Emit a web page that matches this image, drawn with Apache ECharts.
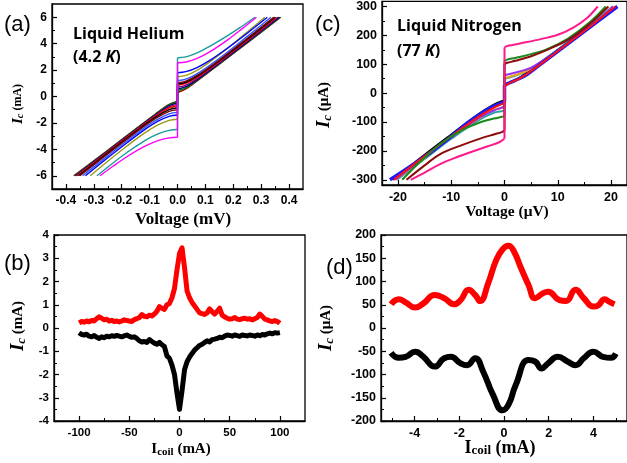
<!DOCTYPE html>
<html>
<head>
<meta charset="utf-8">
<script src="https://cdn.jsdelivr.net/npm/echarts@6/dist/echarts.min.js"></script>
<style>
html,body{margin:0;padding:0;background:#fff;}
#chart{width:627px;height:463px;}
</style>
</head>
<body>
<div id="chart"></div>
<script>
// ---------- (a) Liquid helium I-V curves: [voltage mV, current mA] ----------
const heTeal    = [[-0.289,-6],[-0.23,-5.01],[-0.18,-4.22],[-0.12,-3.37],[-0.07,-2.83],[-0.03,-2.56],[0,-2.5],[0,2.93],[0.03,3.0],[0.07,3.3],[0.12,3.85],[0.18,4.6],[0.23,5.3],[0.278,6]];
const heMagenta = [[-0.278,-6],[-0.23,-5.26],[-0.18,-4.54],[-0.12,-3.8],[-0.07,-3.34],[-0.03,-3.13],[0,-3.08],[0,2.55],[0.03,2.61],[0.07,2.88],[0.12,3.44],[0.18,4.29],[0.23,5.1],[0.283,6]];
const heBlue    = [[-0.33,-6],[-0.25,-4.64],[-0.18,-3.48],[-0.12,-2.54],[-0.07,-1.87],[-0.03,-1.5],[0,-1.4],[0,1.8],[0.03,1.88],[0.07,2.19],[0.12,2.79],[0.18,3.67],[0.25,4.79],[0.322,6]];
const heOlive   = [[-0.313,-6],[-0.25,-4.9],[-0.18,-3.73],[-0.12,-2.79],[-0.07,-2.15],[-0.03,-1.81],[0,-1.72],[0,1.5],[0.03,1.6],[0.07,1.98],[0.12,2.69],[0.18,3.66],[0.25,4.88],[0.313,6]];
const heRoyal   = [[-0.34,-6],[-0.25,-4.49],[-0.15,-2.86],[-0.08,-1.83],[-0.03,-1.31],[0,-1.2],[0,1.2],[0.03,1.31],[0.08,1.85],[0.15,2.89],[0.25,4.55],[0.335,6]];
const heWine    = [[-0.35,-6],[-0.25,-4.34],[-0.15,-2.73],[-0.08,-1.68],[-0.03,-1.12],[0,-1.0],[0,1.05],[0.03,1.17],[0.08,1.73],[0.15,2.77],[0.25,4.41],[0.345,6]];
const heBlack   = [[-0.355,-6],[-0.25,-4.27],[-0.15,-2.65],[-0.08,-1.58],[-0.03,-0.99],[0,-0.85],[0,0.95],[0.03,1.08],[0.08,1.65],[0.15,2.71],[0.25,4.34],[0.35,6]];
const heRed     = [[-0.36,-6],[-0.25,-4.2],[-0.15,-2.58],[-0.08,-1.5],[-0.03,-0.86],[0,-0.7],[0,0.85],[0.03,0.99],[0.08,1.58],[0.15,2.65],[0.25,4.27],[0.355,6]];
const hePurple  = [[-0.362,-6],[-0.25,-4.17],[-0.15,-2.55],[-0.08,-1.45],[-0.03,-0.78],[0,-0.6],[0,0.7],[0.03,0.86],[0.08,1.5],[0.15,2.58],[0.25,4.2],[0.36,6]];
const heNavy    = [[-0.365,-6],[-0.25,-4.12],[-0.15,-2.51],[-0.08,-1.41],[-0.03,-0.7],[0,-0.5],[0,0.55],[0.03,0.74],[0.08,1.42],[0.15,2.52],[0.25,4.13],[0.365,6]];
const heGreen   = [[-0.368,-6],[-0.25,-4.09],[-0.15,-2.47],[-0.08,-1.37],[-0.03,-0.64],[0,-0.42],[0,0.45],[0.03,0.66],[0.08,1.38],[0.15,2.48],[0.25,4.09],[0.368,6]];
const heMaroon  = [[-0.372,-6],[-0.25,-4.07],[-0.15,-2.46],[-0.08,-1.34],[-0.03,-0.6],[0,-0.35],[0,0.3],[0.03,0.57],[0.08,1.33],[0.15,2.45],[0.25,4.06],[0.37,6]];

// ---------- (c) Liquid nitrogen I-V curves: [voltage µV, current µA] ----------
const n2Black  = [[-21,-300],[-15,-213],[-10,-143],[-5,-74],[-2,-40],[-0.5,-28],[0,-25],[0,30],[1,37],[3,56],[6,96],[10,150],[15,218],[21,300]];
const n2Teal   = [[-20.2,-300],[-15,-228],[-10,-158],[-5,-95],[-2,-68],[0,-62],[0,50],[2,60],[5,85],[10,150],[15,222],[20.3,300]];
const n2Orange = [[-20.5,-300],[-15,-225],[-10,-153],[-5,-90],[-2,-58],[0,-50],[0,52],[1,57],[3,68],[5,84],[8,120],[12,172],[16,230],[20.4,300]];
const n2Purple = [[-20.5,-300],[-15,-222],[-10,-153],[-5,-88],[-2,-60],[-0.5,-50],[0,-45],[0,62],[1,66],[3,76],[5,88],[8,122],[12,174],[16,230],[20.4,300]];
const n2Blue   = [[-21.5,-300],[-15,-220],[-10,-150],[-7,-104],[-4,-66],[-2,-45],[-1,-37],[0,-30],[0,28],[1,36],[2,44],[4,62],[7,103],[10,145],[15,214],[21.2,300]];
const n2Red    = [[-20.8,-300],[-15,-218],[-10,-149],[-5,-83],[-2,-50],[-0.5,-38],[0,-35],[0,22],[0.5,30],[1.5,40],[3,52],[6,90],[10,146],[15,215],[20.8,300]];
const n2Green  = [[-19.2,-300],[-16,-240],[-12,-175],[-8,-128],[-5,-104],[-2,-88],[-0.5,-82],[0,-80],[0,112],[0.5,116],[2,122],[5,135],[8,152],[12,190],[16,245],[19,300]];
const n2Maroon = [[-18.4,-300],[-15,-250],[-12,-210],[-8,-180],[-5,-160],[-2,-143],[-0.5,-135],[0,-130],[0,100],[0.5,105],[2,112],[5,128],[8,150],[12,185],[16,240],[19.5,300]];
const n2Pink   = [[-17.6,-300],[-15,-275],[-12,-245],[-9,-222],[-6,-202],[-3,-183],[-1,-170],[0,-157],[0,157],[0.3,162],[1.5,167],[4,176],[7,188],[10,202],[13,228],[15.5,260],[17.5,300]];

// ---------- (b) critical current vs coil current, helium ----------
const coilB  = [-100,-97.5,-95,-92.5,-90,-87.5,-85,-82.5,-80,-77.5,-75,-72.5,-70,-67.5,-65,-62.5,-60,-57.5,-55,-52.5,-50,-47.5,-45,-42.5,-40,-37.5,-35,-32.5,-30,-27.5,-25,-22.5,-20,-17.5,-15,-12.5,-10,-7.5,-5,-2.5,0,2.5,5,7.5,10,12.5,15,17.5,20,22.5,25,27.5,30,32.5,35,37.5,40,42.5,45,47.5,50,52.5,55,57.5,60,62.5,65,67.5,70,72.5,75,77.5,80,82.5,85,87.5,90,92.5,95,97.5,100];
const icPlusB  = [0.22,0.28,0.25,0.3,0.27,0.32,0.3,0.4,0.48,0.42,0.35,0.38,0.3,0.33,0.28,0.3,0.26,0.3,0.35,0.32,0.3,0.28,0.36,0.4,0.45,0.58,0.5,0.48,0.55,0.52,0.6,0.72,0.92,0.85,0.8,1.0,1.05,1.3,1.7,2.5,3.2,3.45,2.6,1.6,1.3,1.1,0.95,0.8,0.65,0.62,0.58,0.65,0.82,0.7,0.6,0.72,0.85,0.55,0.48,0.42,0.38,0.4,0.45,0.38,0.36,0.4,0.42,0.38,0.4,0.35,0.4,0.45,0.6,0.5,0.38,0.35,0.3,0.28,0.32,0.28,0.2];
const icMinusB = [-0.2,-0.28,-0.3,-0.27,-0.35,-0.38,-0.32,-0.4,-0.45,-0.38,-0.42,-0.35,-0.38,-0.33,-0.36,-0.32,-0.35,-0.38,-0.34,-0.3,-0.36,-0.4,-0.38,-0.45,-0.55,-0.6,-0.58,-0.62,-0.5,-0.58,-0.65,-0.7,-0.62,-0.72,-0.8,-1.2,-1.3,-1.6,-2.0,-2.8,-3.5,-2.7,-1.8,-1.45,-1.25,-1.1,-0.95,-0.85,-0.75,-0.7,-0.62,-0.55,-0.6,-0.5,-0.48,-0.45,-0.4,-0.42,-0.35,-0.3,-0.32,-0.35,-0.3,-0.33,-0.36,-0.3,-0.32,-0.34,-0.3,-0.32,-0.35,-0.3,-0.33,-0.28,-0.3,-0.25,-0.22,-0.25,-0.2,-0.22,-0.2];

// ---------- (d) critical current vs coil current, nitrogen: [coil mA, Ic µA] ----------
const icPlusD  = [[-5.05,51],[-4.7,62],[-4.4,55],[-3.97,44],[-3.6,53],[-3.1,71],[-2.67,64],[-2.23,51],[-1.94,60],[-1.58,82],[-1.29,71],[-1.07,58],[-0.71,96],[-0.35,146],[-0.05,170],[0.2,177],[0.45,164],[0.75,130],[1.1,92],[1.39,64],[1.75,75],[1.97,78],[2.48,60],[2.77,58],[3.2,82],[3.57,64],[4.0,46],[4.22,49],[4.5,62],[4.72,56],[4.94,51]];
const icMinusD = [[-5.05,-53],[-4.7,-64],[-4.4,-62],[-3.97,-51],[-3.6,-62],[-3.1,-83],[-2.67,-65],[-2.38,-62],[-1.94,-76],[-1.65,-80],[-1.29,-65],[-0.93,-94],[-0.49,-144],[-0.06,-177],[0.2,-165],[0.52,-123],[1.1,-69],[1.39,-72],[1.68,-87],[1.97,-76],[2.41,-62],[2.84,-72],[3.2,-80],[3.57,-65],[4.0,-51],[4.43,-62],[4.78,-64],[5.0,-55]];

// ---------- tick positions ----------
const heVoltTicks = [-0.4,-0.3,-0.2,-0.1,0,0.1,0.2,0.3,0.4];
const heVoltMinor = [-0.35,-0.25,-0.15,-0.05,0.05,0.15,0.25,0.35];
const heCurTicks  = [-6,-4,-2,0,2,4,6];
const heCurMinor  = [-5,-3,-1,1,3,5];
const n2VoltTicks = [-20,-10,0,10,20];
const n2VoltMinor = [-15,-5,5,15];
const n2CurTicks  = [-300,-200,-100,0,100,200,300];
const n2CurMinor  = [-250,-150,-50,50,150,250];
const coilBTicks  = [-100,-50,0,50,100];
const coilBMinor  = [-75,-25,25,75];
const icBTicks    = [-4,-3,-2,-1,0,1,2,3,4];
const icBMinor    = [-3.5,-2.5,-1.5,-0.5,0.5,1.5,2.5,3.5];
const coilDTicks  = [-4,-2,0,2,4];
const coilDMinor  = [-5,-3,-1,1,3,5];
const icDTicks    = [-200,-150,-100,-50,0,50,100,150,200];
const icDMinor    = [-175,-125,-75,-25,25,75,125,175];

const SANS = 'Arial, "Liberation Sans", sans-serif';
const SERIF = '"Times New Roman", "Liberation Serif", serif';

function axisPair(dim, gi, min, max, major, minor, fs, fmt) {
  const pos = dim === 'x' ? 'bottom' : 'left';
  const main = {
    type: 'value', gridIndex: gi, min: min, max: max, position: pos,
    axisLine: { show: true, onZero: false, lineStyle: { color: '#000', width: 1.3 } },
    axisTick: { show: true, inside: true, length: 5, customValues: major, lineStyle: { color: '#000', width: 1.2 } },
    axisLabel: { customValues: major, color: '#000', margin: dim === 'x' ? 6 : 5,
                 textStyle: undefined, fontSize: fs, fontWeight: 700, fontFamily: SANS,
                 formatter: fmt || (v => String(v)) },
    splitLine: { show: false }
  };
  const sub = {
    type: 'value', gridIndex: gi, min: min, max: max, position: pos,
    axisLine: { show: false, onZero: false },
    axisTick: { show: true, inside: true, length: 3, customValues: minor, lineStyle: { color: '#000', width: 1 } },
    axisLabel: { show: false },
    splitLine: { show: false }
  };
  return [main, sub];
}

const xAxes = [].concat(
  axisPair('x', 0, -0.45, 0.45, heVoltTicks, heVoltMinor, 12, v => v.toFixed(1)),
  axisPair('x', 1, -23, 23, n2VoltTicks, n2VoltMinor, 12.5),
  axisPair('x', 2, -125, 125, coilBTicks, coilBMinor, 11.5),
  axisPair('x', 3, -5.5, 5.5, coilDTicks, coilDMinor, 12.5)
);
const yAxes = [].concat(
  axisPair('y', 0, -7, 7, heCurTicks, heCurMinor, 12),
  axisPair('y', 1, -318, 318, n2CurTicks, n2CurMinor, 12.5),
  axisPair('y', 2, -4, 4, icBTicks, icBMinor, 11.5),
  axisPair('y', 3, -200, 200, icDTicks, icDMinor, 12.5)
);

const gridStyle = { show: true, borderColor: '#000', borderWidth: 1.3, backgroundColor: 'transparent', containLabel: false };
const grids = [
  Object.assign({ left: 52, top: 4, width: 251, height: 185 }, gridStyle),
  Object.assign({ left: 382, top: 0, width: 251, height: 185 }, gridStyle),
  Object.assign({ left: 54, top: 235, width: 251, height: 186 }, gridStyle),
  Object.assign({ left: 381, top: 235, width: 253, height: 186 }, gridStyle)
];

// An I-V sweep is drawn as two smooth branches joined by the straight
// superconducting (zero-voltage) step.
function ivSeries(curve, color, axisIdx, width) {
  let k = 0;
  while (k < curve.length - 1 && !(curve[k][0] === 0 && curve[k + 1][0] === 0)) k++;
  const neg = curve.slice(0, k + 1);
  const pos = curve.slice(k + 1);
  const base = { type: 'line', xAxisIndex: axisIdx, yAxisIndex: axisIdx, symbol: 'none', silent: true,
                 lineStyle: { color: color, width: width }, z: 2 };
  return [
    Object.assign({}, base, { data: neg, smooth: 0.35 }),
    Object.assign({}, base, { data: [neg[neg.length - 1], pos[0]], smooth: false }),
    Object.assign({}, base, { data: pos, smooth: 0.35 })
  ];
}

const heSet = [
  [heMaroon, '#8b0000'], [heGreen, '#008000'], [heNavy, '#000080'], [hePurple, '#800080'],
  [heRed, '#ff0000'], [heBlack, '#000000'], [heWine, '#800000'], [heRoyal, '#3355ff'],
  [heOlive, '#9a9a1a'], [heBlue, '#0000ff'], [heTeal, '#1a9a9a'], [heMagenta, '#ff00ff']
];
const n2Set = [
  [n2Black, '#000000', 2], [n2Teal, '#30a0a0', 2], [n2Orange, '#e8a020', 2], [n2Purple, '#9a30e8', 2],
  [n2Blue, '#1a1aff', 3.5], [n2Red, '#ff1010', 2], [n2Green, '#1a8a1a', 2], [n2Maroon, '#8b0a0a', 2],
  [n2Pink, '#ff1a8c', 2]
];

let series = [];
heSet.forEach(c => { series = series.concat(ivSeries(c[0], c[1], 0, 1.4)); });
n2Set.forEach(c => { series = series.concat(ivSeries(c[0], c[1], 2, c[2])); });

function pairs(xs, ys) { return xs.map((x, i) => [x, ys[i]]); }
series.push(
  { type: 'line', xAxisIndex: 4, yAxisIndex: 4, data: pairs(coilB, icPlusB), symbol: 'none', silent: true,
    lineStyle: { color: '#ff0000', width: 5, join: 'round' } },
  { type: 'line', xAxisIndex: 4, yAxisIndex: 4, data: pairs(coilB, icMinusB), symbol: 'none', silent: true,
    lineStyle: { color: '#000000', width: 5, join: 'round' } },
  { type: 'line', xAxisIndex: 6, yAxisIndex: 6, data: icPlusD, symbol: 'none', smooth: 0.5, silent: true,
    lineStyle: { color: '#ff0000', width: 6 } },
  { type: 'line', xAxisIndex: 6, yAxisIndex: 6, data: icMinusD, symbol: 'none', smooth: 0.5, silent: true,
    lineStyle: { color: '#000000', width: 6 } }
);

function txt(x, y, text, size, opts) {
  return Object.assign({ type: 'text', x: x, y: y, silent: true, z: 100,
    style: Object.assign({ text: text, fontSize: size, fontFamily: SANS, fill: '#000',
      align: 'left', verticalAlign: 'middle' }, (opts && opts.style) || {}) },
    (opts && opts.el) || {});
}
const serifBold = { fontFamily: SERIF, fontWeight: 'bold' };
function yName(x, y, unit, k) {
  return txt(x, y, '{i|I}{s|c}{u| (' + unit + ')}', 17 * k, {
    el: { rotation: Math.PI / 2 },
    style: { align: 'center', rich: {
      i: { fontFamily: SERIF, fontWeight: 'bold', fontStyle: 'italic', fontSize: 19 * k },
      s: { fontFamily: SERIF, fontWeight: 'bold', fontStyle: 'italic', fontSize: 13 * k, verticalAlign: 'bottom', padding: [7 * k, 0, 0, 0] },
      u: { fontFamily: SERIF, fontWeight: 'bold', fontSize: 15 * k } } }
  });
}
function coilName(x, y, size) {
  return txt(x, y, '{b|I}{s|coil}{b| (mA)}', size, {
    style: { align: 'center', rich: {
      b: Object.assign({ fontSize: size }, serifBold),
      s: Object.assign({ fontSize: Math.round(size * 0.72), verticalAlign: 'bottom', padding: [6, 0, 0, 0] }, serifBold) } }
  });
}
const calibri = '"Open Sans", "Lato", sans-serif';
const kRich = { k: { fontFamily: calibri, fontWeight: 'bold', fontStyle: 'italic', fontSize: 16 } };
const graphics = [
  txt(4, 25, '(a)', 22),
  txt(73, 34, 'Liquid Helium', 16, { style: { fontFamily: calibri, fontWeight: 'bold' } }),
  txt(73, 57, '(4.2 {k|K})', 16, { style: { fontFamily: calibri, fontWeight: 'bold', rich: kRich } }),
  txt(315, 25, '(c)', 22),
  txt(397, 26, 'Liquid Nitrogen', 16, { style: { fontFamily: calibri, fontWeight: 'bold' } }),
  txt(397, 51, '(77 {k|K})', 16, { style: { fontFamily: calibri, fontWeight: 'bold', rich: kRich } }),
  txt(4, 264, '(b)', 22),
  txt(326, 268, '(d)', 22),
  txt(183, 220, 'Voltage (mV)', 17, { style: Object.assign({ align: 'center' }, serifBold) }),
  txt(507, 212, 'Voltage (\u03bcV)', 15.5, { style: Object.assign({ align: 'center' }, serifBold) }),
  yName(18, 104, 'mA', 0.8),
  yName(324, 105, '\u03bcA', 1),
  yName(18, 326, 'mA', 1),
  yName(326, 328, '\u03bcA', 1),
  coilName(181, 449, 15),
  coilName(500, 448, 18)
];

const chart = echarts.init(document.getElementById('chart'), null, { renderer: 'canvas' });
chart.setOption({
  backgroundColor: '#ffffff',
  animation: false,
  grid: grids,
  xAxis: xAxes,
  yAxis: yAxes,
  series: series,
  graphic: graphics
});
</script>
</body>
</html>
